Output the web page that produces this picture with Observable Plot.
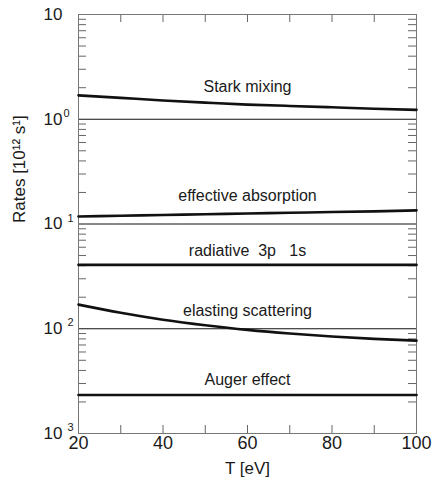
<!DOCTYPE html>
<html>
<head>
<meta charset="utf-8">
<script src="https://cdn.jsdelivr.net/npm/d3@7"></script>
<script src="https://cdn.jsdelivr.net/npm/@observablehq/plot@0.6"></script>
<style>
  html, body { margin: 0; padding: 0; background: #fff; }
  svg { font-family: "Liberation Sans", Arial, Helvetica, sans-serif; }
</style>
</head>
<body>
<div id="chart"></div>
<script>
// ---- data ----
const T = [20, 30, 40, 50, 60, 70, 80, 90, 100];
const starkMixing = [1.69, 1.60, 1.51, 1.44, 1.38, 1.34, 1.30, 1.26, 1.23];
const effectiveAbsorption = [0.118, 0.120, 0.122, 0.124, 0.126, 0.128, 0.130, 0.132, 0.135];
const radiative3p1s = [0.0407, 0.0407, 0.0407, 0.0407, 0.0407, 0.0407, 0.0407, 0.0407, 0.0407];
const elasticScattering = [0.0170, 0.0142, 0.0122, 0.0108, 0.00975, 0.0090, 0.00843, 0.0080, 0.0077];
const augerEffect = [0.00233, 0.00233, 0.00233, 0.00233, 0.00233, 0.00233, 0.00233, 0.00233, 0.00233];

const curveNames = ["Stark mixing", "effective absorption", "radiative\u00a0 3p\u00a0\u00a0 1s", "elasting scattering", "Auger effect"];
const curveLabelT = [60, 60, 60, 60, 60];
const curveLabelRate = [2.05, 0.187, 0.0557, 0.0149, 0.00327];

const xTickValues = [20, 40, 60, 80, 100];
const xMinorTicks = [30, 40, 50, 60, 70, 80, 90];
const yTickValues = [10, 1, 0.1, 0.01, 0.001];
const yTickBase = ["10", "10", "10", "10", "10"];
const yTickSup = ["", "0", "1", "2", "3"];
const yDecadeLines = [1, 0.1, 0.01];
const yMinorTicks = [];
for (const dec of [1, 0.1, 0.01, 0.001]) for (const m of [2,3,4,5,6,7,8,9]) yMinorTicks.push(+(m*dec).toPrecision(3));

const xLabel = "T [eV]";
const yLabel = "Rates [10\u00b9\u00b2 s\u00b9]";

// ---- build ----
const series = [starkMixing, effectiveAbsorption, radiative3p1s, elasticScattering, augerEffect];
const lineData = series.flatMap((vals, k) => T.map((t, i) => ({T: t, rate: vals[i], s: k})));
const labelData = curveNames.map((n, i) => ({name: n, T: curveLabelT[i], rate: curveLabelRate[i]}));
const yTicks = yTickValues.map((v, i) => ({v, base: yTickBase[i], sup: yTickSup[i]}));

const W = 432, H = 495, mT = 14, mB = 62, mL = 78, mR = 16;
const plotH = H - mT - mB, plotW = W - mL - mR;
const ink = "#1a1a1a";

const chart = Plot.plot({
  width: W, height: H,
  marginTop: mT, marginBottom: mB, marginLeft: mL, marginRight: mR,
  x: {domain: [20, 100]},
  y: {type: "log", domain: [0.001, 10], axis: null},
  style: {fontFamily: '"Liberation Sans", Arial, Helvetica, sans-serif', color: ink, background: "#fff"},
  marks: [
    Plot.ruleY(yDecadeLines, {stroke: "#111", strokeWidth: 1}),
    // minor ticks (inward)
    Plot.tickX(xMinorTicks, {x: d => d, insetTop: plotH - 8, stroke: "#666"}),
    Plot.tickX(xMinorTicks, {x: d => d, insetBottom: plotH - 8, stroke: "#666"}),
    Plot.tickY(yMinorTicks, {y: d => d, insetRight: plotW - 8, stroke: "#666"}),
    Plot.tickY(yMinorTicks, {y: d => d, insetLeft: plotW - 8, stroke: "#666"}),
    Plot.frame({stroke: "#777", strokeWidth: 1}),
    Plot.line(lineData, {x: "T", y: "rate", z: "s", stroke: "#111", strokeWidth: 2.6, curve: "natural"}),
    Plot.text(labelData, {x: "T", y: "rate", text: "name", fontSize: 16, fill: ink}),
    // x axis tick labels
    Plot.axisX({ticks: xTickValues, tickSize: 0, tickPadding: 3, fontSize: 18, label: null}),
    Plot.text([xLabel], {frameAnchor: "bottom", dy: 40, fontSize: 17, fill: ink}),
    // y axis tick labels (base + superscript)
    Plot.text(yTicks, {y: "v", text: "base", frameAnchor: "left", textAnchor: "start", dx: -35, fontSize: 17, fill: ink}),
    Plot.text(yTicks.filter(d => d.sup === "0"), {y: "v", text: "sup", frameAnchor: "left", textAnchor: "start", dx: -15, dy: -6, fontSize: 11, fill: ink}),
    Plot.text(yTicks.filter(d => d.sup !== "" && d.sup !== "0"), {y: "v", text: "sup", frameAnchor: "left", textAnchor: "start", dx: -11, dy: -6, fontSize: 11, fill: ink}),
    Plot.text([yLabel], {frameAnchor: "left", dx: -59, dy: -1, rotate: -90, fontSize: 17, fill: ink})
  ]
});
document.getElementById("chart").appendChild(chart);
</script>
</body>
</html>
